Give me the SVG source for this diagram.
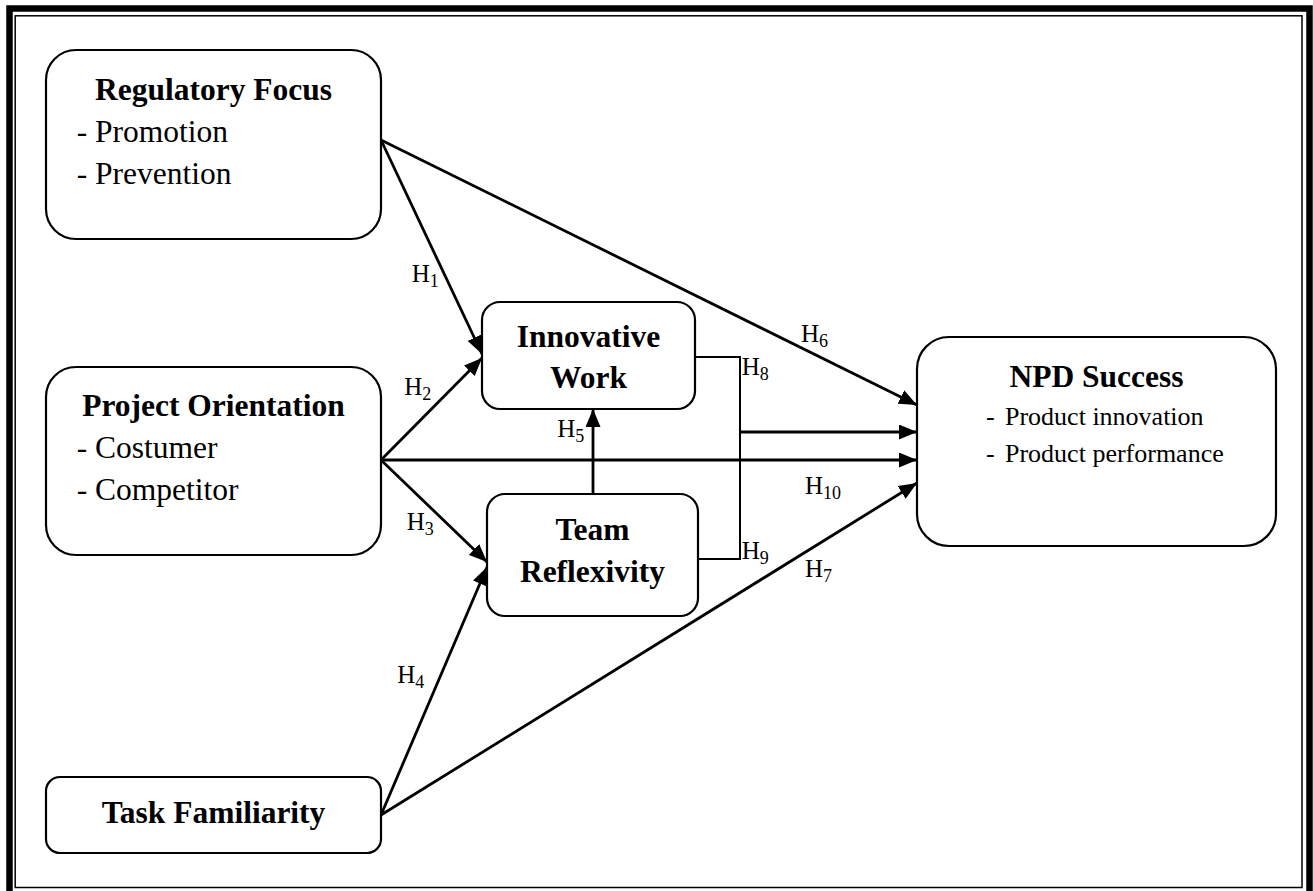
<svg xmlns="http://www.w3.org/2000/svg" width="1313" height="891" viewBox="0 0 1313 891">
<style>
.box{fill:#fff;stroke:#000;stroke-width:2.2}
.t{font-family:"Liberation Serif","Times New Roman",serif;fill:#000}
.b{font-weight:bold;font-size:31.5px;text-anchor:middle}
.r{font-size:31.5px}
.s{font-size:26px}
.h{font-size:25px}
.sub{font-size:18px}
.c{stroke:#000;stroke-width:2.8;fill:none}
.br{stroke:#000;stroke-width:2;fill:none}
</style>
<defs>
<marker id="ah" markerUnits="userSpaceOnUse" viewBox="0 0 18 15" refX="18" refY="7.5" markerWidth="18" markerHeight="15" orient="auto">
<path d="M0,0 L18,7.5 L0,15 z" fill="#000"/>
</marker>
</defs>
<rect width="1313" height="891" fill="#fff"/>
<rect x="9.5" y="8.5" width="1300" height="890" fill="none" stroke="#000" stroke-width="6.5"/>
<rect x="15.2" y="15.8" width="1286.8" height="871.7" fill="none" stroke="#000" stroke-width="1.5"/>

<g id="connectors">
<line class="c" x1="381" y1="140" x2="482" y2="354" marker-end="url(#ah)"/>
<line class="c" x1="381" y1="140" x2="917" y2="405" marker-end="url(#ah)"/>
<line class="c" x1="381" y1="460" x2="482" y2="358" marker-end="url(#ah)"/>
<line class="c" x1="381" y1="460" x2="917" y2="460" marker-end="url(#ah)"/>
<line class="c" x1="381" y1="460" x2="487" y2="562" marker-end="url(#ah)"/>
<line class="c" x1="381" y1="815" x2="487" y2="567" marker-end="url(#ah)"/>
<line class="c" x1="381" y1="815" x2="917" y2="483" marker-end="url(#ah)"/>
<line class="c" x1="593" y1="494" x2="593" y2="409" marker-end="url(#ah)"/>
<polyline class="br" points="695,357 740,357 740,559 698,559"/>
<line class="c" x1="740" y1="432" x2="917" y2="432" marker-end="url(#ah)"/>
<g class="t h">
<text x="411.7" y="281.7">H<tspan class="sub" dy="5">1</tspan></text>
<text x="404.3" y="395">H<tspan class="sub" dy="5">2</tspan></text>
<text x="406.7" y="530">H<tspan class="sub" dy="5">3</tspan></text>
<text x="397.3" y="683.3">H<tspan class="sub" dy="5">4</tspan></text>
<text x="557.3" y="436.7">H<tspan class="sub" dy="5">5</tspan></text>
<text x="801" y="341.7">H<tspan class="sub" dy="5">6</tspan></text>
<text x="805" y="576.7">H<tspan class="sub" dy="5">7</tspan></text>
<text x="741.7" y="375">H<tspan class="sub" dy="5">8</tspan></text>
<text x="741.7" y="559.3">H<tspan class="sub" dy="5">9</tspan></text>
<text x="805" y="494">H<tspan class="sub" dy="5">10</tspan></text>
</g>
</g>

<g id="regulatory-focus">
<rect class="box" x="46" y="50" width="335" height="189" rx="30"/>
<text class="t b" x="213.5" y="100">Regulatory Focus</text>
<text class="t r" x="76.7" y="141.7">-</text><text class="t r" x="95" y="141.7">Promotion</text>
<text class="t r" x="76.7" y="184">-</text><text class="t r" x="95" y="184">Prevention</text>
</g>

<g id="project-orientation">
<rect class="box" x="46" y="367" width="335" height="188" rx="30"/>
<text class="t b" x="213.5" y="416">Project Orientation</text>
<text class="t r" x="76.7" y="458.3">-</text><text class="t r" x="95" y="458.3">Costumer</text>
<text class="t r" x="76.7" y="500">-</text><text class="t r" x="95" y="500">Competitor</text>
</g>

<g id="task-familiarity">
<rect class="box" x="46" y="777" width="335" height="76" rx="14"/>
<text class="t b" x="213.5" y="823">Task Familiarity</text>
</g>

<g id="innovative-work">
<rect class="box" x="482" y="302" width="213" height="107" rx="18"/>
<text class="t b" x="588.5" y="346.7">Innovative</text>
<text class="t b" x="588.5" y="388.3">Work</text>
</g>

<g id="team-reflexivity">
<rect class="box" x="487" y="494" width="211" height="122" rx="18"/>
<text class="t b" x="592.5" y="540">Team</text>
<text class="t b" x="592.5" y="581.7">Reflexivity</text>
</g>

<g id="npd-success">
<rect class="box" x="917" y="337" width="359" height="209" rx="32"/>
<text class="t b" x="1096.5" y="387.3">NPD Success</text>
<text class="t s" x="986" y="425">-</text><text class="t s" x="1005" y="425">Product innovation</text>
<text class="t s" x="986" y="461.7">-</text><text class="t s" x="1005" y="461.7">Product performance</text>
</g>
</svg>
